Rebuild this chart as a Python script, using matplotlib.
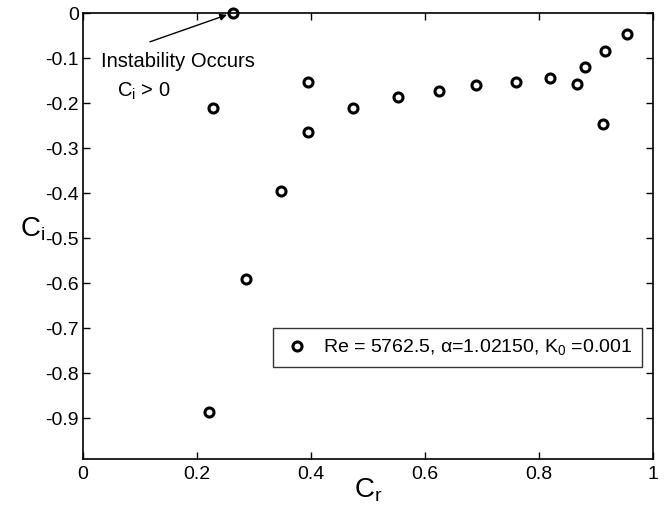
import matplotlib
matplotlib.use("Agg")
import matplotlib.pyplot as plt

# eigenvalue spectrum
cr = [0.263, 0.2275, 0.347, 0.395, 0.395, 0.286, 0.2216,
      0.474, 0.553, 0.624, 0.689, 0.760, 0.820, 0.867, 0.880,
      0.916, 0.913, 0.954]
ci = [0.0, -0.210, -0.396, -0.153, -0.265, -0.592, -0.887,
      -0.210, -0.187, -0.174, -0.161, -0.153, -0.144, -0.158, -0.120,
      -0.084, -0.247, -0.047]

xticks = [0, 0.2, 0.4, 0.6, 0.8, 1]
xticklabels = ["0", "0.2", "0.4", "0.6", "0.8", "1"]
yticks = [0, -0.1, -0.2, -0.3, -0.4, -0.5, -0.6, -0.7, -0.8, -0.9]
yticklabels = ["0", "-0.1", "-0.2", "-0.3", "-0.4", "-0.5", "-0.6", "-0.7", "-0.8", "-0.9"]

plt.rcParams["font.family"] = ["Liberation Sans", "DejaVu Sans"]
plt.rcParams["mathtext.fontset"] = "custom"
plt.rcParams["mathtext.rm"] = "Liberation Sans"
plt.rcParams["mathtext.it"] = "Liberation Sans"
plt.rcParams["axes.unicode_minus"] = False

fig = plt.figure(figsize=(6.69, 5.2), dpi=100)
ax = fig.add_axes([83 / 669, 61 / 520, 570 / 669, 446 / 520])

ax.plot(cr, ci, "o", mfc="white", mec="black", ms=6.5, mew=2.2,
        linestyle="none", clip_on=False,
        label=r"Re = 5762.5, α=1.02150, K$\mathregular{_0}$ =0.001")

ax.set_xlim(0, 1)
ax.set_ylim(-0.991, 0)
ax.set_xticks(xticks)
ax.set_xticklabels(xticklabels)
ax.set_yticks(yticks)
ax.set_yticklabels(yticklabels)
ax.tick_params(direction="in", top=True, right=True, length=5, width=1,
               labelsize=14)
ax.tick_params(axis="y", pad=3)
ax.tick_params(axis="x", pad=5)
for s in ax.spines.values():
    s.set_linewidth(1.2)

ax.set_xlabel(r"$\mathregular{C_r}$", fontsize=20, va="top")
ax.xaxis.set_label_coords(0.5, -0.04)
ax.set_ylabel(r"$\mathregular{C_i}$", fontsize=20, rotation=0,
              va="center", ha="center")
ax.yaxis.set_label_coords(-0.088, 0.515)

# annotation for the unstable mode
ax.annotate("", xy=(0.2526, -0.004), xytext=(0.1175, -0.064),
            arrowprops=dict(arrowstyle="-|>", color="black", lw=1,
                            mutation_scale=10, shrinkA=0, shrinkB=0))
ax.text(0.0316, -0.119, "Instability Occurs", fontsize=14.5, va="baseline")
ax.text(0.06, -0.186, r"C$\mathregular{_i}$ > 0", fontsize=14.5, va="baseline")

leg = ax.legend(loc="lower right", bbox_to_anchor=(0.981, 0.206),
                borderaxespad=0, fancybox=False, fontsize=14,
                handletextpad=0.6, handlelength=1.5, borderpad=0.5)
leg.get_frame().set_edgecolor("black")
leg.get_frame().set_linewidth(1)

fig.savefig("out.png", dpi=100)
